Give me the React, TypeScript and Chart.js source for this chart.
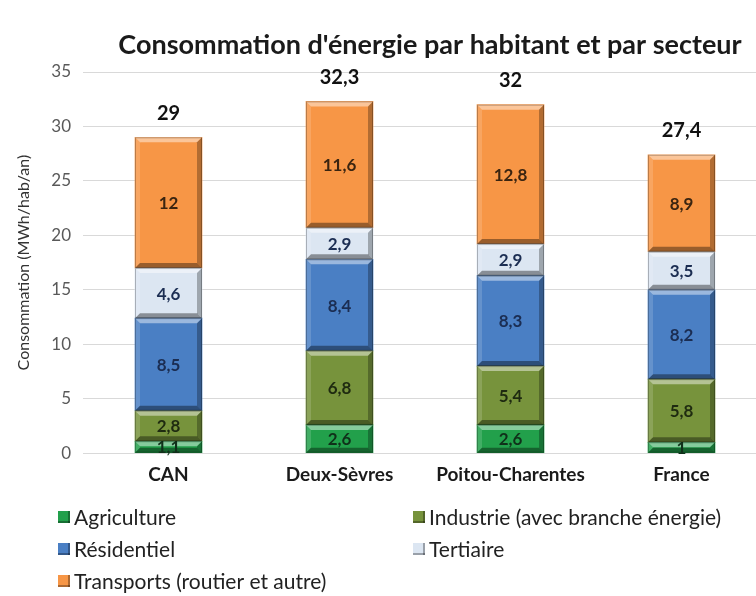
import React, { useEffect, useRef } from "react";
import { Chart, registerables } from "chart.js";

Chart.register(...registerables);

const title = "Consommation d'énergie par habitant et par secteur";
const yAxisTitle = "Consommation (MWh/hab/an)";
const categories = ["CAN", "Deux-Sèvres", "Poitou-Charentes", "France"];
const yTicks = [0, 5, 10, 15, 20, 25, 30, 35];
const seriesNames = [
  "Agriculture",
  "Industrie (avec branche énergie)",
  "Résidentiel",
  "Tertiaire",
  "Transports (routier et autre)",
];
const agriculture = [1.1, 2.6, 2.6, 1];
const industrie = [2.8, 6.8, 5.4, 5.8];
const residentiel = [8.5, 8.4, 8.3, 8.2];
const tertiaire = [4.6, 2.9, 2.9, 3.5];
const transports = [12, 11.6, 12.8, 8.9];
const totals = [29, 32.3, 32, 27.4];
const colors = ["#22a04b", "#77933c", "#4a7fc4", "#dce6f2", "#f79646"];
const labelColors = ["#10301a", "#1e2a10", "#1b2d52", "#1b2d52", "#3a2410"];

const FONT = "Lato, 'Open Sans', sans-serif";
const fmt = (v: number) => String(v).replace(".", ",");

const bevelPlugin = {
  id: "bevel",
  afterDatasetsDraw(chart: any) {
    const ctx = chart.ctx;
    chart.data.datasets.forEach((ds: any, di: number) => {
      const meta = chart.getDatasetMeta(di);
      meta.data.forEach((el: any, i: number) => {
        const p = el.getProps(["x", "y", "base", "width"], true);
        const l = p.x - p.width / 2;
        const r = p.x + p.width / 2;
        const t = Math.min(p.y, p.base);
        const b = Math.max(p.y, p.base);
        const h = b - t;
        const s = Math.min(5, h / 2);
        ctx.save();
        ctx.fillStyle = "rgba(255,255,255,0.45)";
        ctx.beginPath();
        ctx.moveTo(l, t); ctx.lineTo(r, t); ctx.lineTo(r - s, t + s); ctx.lineTo(l + s, t + s); ctx.closePath(); ctx.fill();
        ctx.fillStyle = "rgba(255,255,255,0.15)";
        ctx.beginPath();
        ctx.moveTo(l, t); ctx.lineTo(l + s, t + s); ctx.lineTo(l + s, b - s); ctx.lineTo(l, b); ctx.closePath(); ctx.fill();
        ctx.fillStyle = "rgba(0,0,0,0.28)";
        ctx.beginPath();
        ctx.moveTo(r, t); ctx.lineTo(r, b); ctx.lineTo(r - s, b - s); ctx.lineTo(r - s, t + s); ctx.closePath(); ctx.fill();
        ctx.fillStyle = "rgba(0,0,0,0.38)";
        ctx.beginPath();
        ctx.moveTo(l, b); ctx.lineTo(r, b); ctx.lineTo(r - s, b - s); ctx.lineTo(l + s, b - s); ctx.closePath(); ctx.fill();
        ctx.strokeStyle = "rgba(0,0,0,0.25)";
        ctx.lineWidth = 1;
        ctx.strokeRect(l + 0.5, t + 0.5, p.width - 1, h - 1);
        const v = ds.data[i];
        ctx.fillStyle = labelColors[di];
        ctx.font = `bold 17px ${FONT}`;
        ctx.textAlign = "center";
        ctx.textBaseline = "middle";
        ctx.fillText(fmt(v), p.x, (t + b) / 2 + 1);
        ctx.restore();
      });
    });
    const last = chart.getDatasetMeta(chart.data.datasets.length - 1);
    const yScale = chart.scales.y;
    ctx.save();
    ctx.fillStyle = "#111";
    ctx.font = `bold 20px ${FONT}`;
    ctx.textAlign = "center";
    ctx.textBaseline = "middle";
    last.data.forEach((el: any, i: number) => {
      const y = yScale.getPixelForValue(totals[i]);
      ctx.fillText(fmt(totals[i]), el.x, y - 24);
    });
    ctx.restore();
  },
};

const decorPlugin = {
  id: "decor",
  afterDraw(chart: any) {
    const ctx = chart.ctx;
    ctx.save();
    ctx.fillStyle = "#1a1a1a";
    ctx.font = `bold 27px ${FONT}`;
    ctx.textAlign = "center";
    ctx.textBaseline = "middle";
    ctx.fillText(title, 430, 45);
    const pos = [
      [58, 517], [413, 517], [58, 549], [413, 549], [58, 581],
    ];
    ctx.font = `21px ${FONT}`;
    ctx.textAlign = "left";
    chart.data.datasets.forEach((ds: any, i: number) => {
      const [x, y] = pos[i];
      ctx.fillStyle = colors[i];
      ctx.fillRect(x, y - 6, 12, 12);
      ctx.fillStyle = "rgba(0,0,0,0.3)";
      ctx.fillRect(x, y + 4, 12, 2);
      ctx.fillRect(x + 10, y - 6, 2, 12);
      ctx.fillStyle = "#222";
      ctx.fillText(ds.label, x + 16, y + 1);
    });
    ctx.restore();
  },
};

export default function App() {
  const ref = useRef<HTMLCanvasElement>(null);
  useEffect(() => {
    if (!ref.current) return;
    const series = [agriculture, industrie, residentiel, tertiaire, transports];
    const chart = new Chart(ref.current, {
      type: "bar",
      data: {
        labels: categories,
        datasets: series.map((d, i) => ({
          label: seriesNames[i],
          data: d,
          backgroundColor: colors[i],
          borderWidth: 0,
          barThickness: 67,
        })),
      },
      options: {
        responsive: false,
        animation: false,
        layout: { padding: { left: 14, right: 3, top: 72, bottom: 100 } },
        plugins: { legend: { display: false }, title: { display: false }, tooltip: { enabled: false } },
        scales: {
          x: {
            stacked: true,
            grid: { display: false, drawTicks: false },
            border: { display: false },
            ticks: { color: "#1a1a1a", font: { family: FONT, size: 19, weight: "bold" }, padding: 10 },
          },
          y: {
            stacked: true,
            min: 0,
            max: 35,
            afterBuildTicks: (s: any) => { s.ticks = yTicks.map((v) => ({ value: v })); },
            afterFit: (s: any) => { s.width = 69; },
            grid: { color: "#d9d9d9", drawTicks: false },
            border: { display: false },
            ticks: { color: "#595959", font: { family: FONT, size: 17 }, padding: 12 },
            title: { display: true, text: yAxisTitle, color: "#333", font: { family: FONT, size: 16 }, padding: { top: 0, bottom: 0 } },
          },
        },
      },
      plugins: [bevelPlugin, decorPlugin],
    } as any);
    return () => chart.destroy();
  }, []);
  return (
    <div style={{ position: "fixed", left: 0, top: 0, width: 756, height: 596, overflow: "hidden", background: "#fff" }}>
      <canvas ref={ref} width={770} height={596} />
    </div>
  );
}
